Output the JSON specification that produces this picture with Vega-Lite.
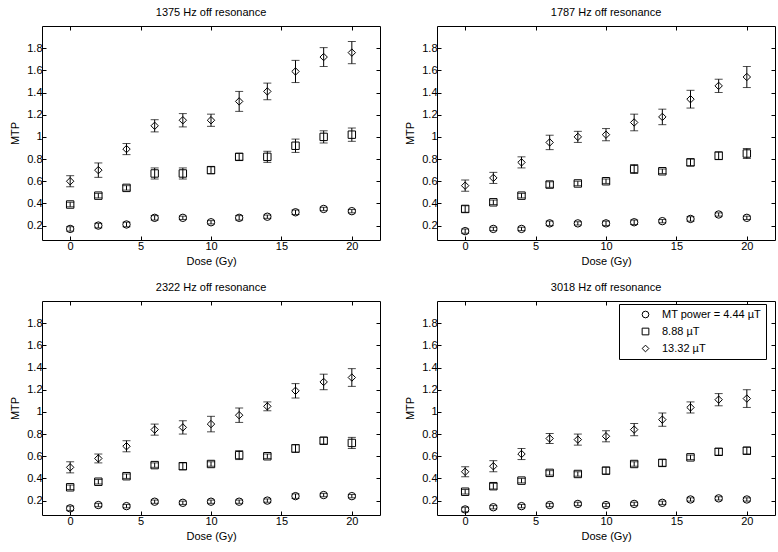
{
  "$schema": "https://vega.github.io/schema/vega-lite/v6.json",
  "padding": {"left": 9, "top": 6, "right": 2, "bottom": 2},
  "config": {"font": "Liberation Sans", "view": {"stroke": "black", "strokeWidth": 1},
    "axis": {"grid": false, "domain": false, "tickColor": "black", "tickSize": -4, "labelColor": "black", "labelFontSize": 11, "titleColor": "black", "titleFontSize": 11, "titleFontWeight": "normal", "labelPadding": 4}},
  "data": {"values": [
    {"panel": "1375 Hz off resonance", "power": "MT power = 4.44 µT", "dose": 0, "mtp": 0.17, "lo": 0.15, "hi": 0.19},
    {"panel": "1375 Hz off resonance", "power": "MT power = 4.44 µT", "dose": 2, "mtp": 0.20, "lo": 0.18, "hi": 0.22},
    {"panel": "1375 Hz off resonance", "power": "MT power = 4.44 µT", "dose": 4, "mtp": 0.21, "lo": 0.19, "hi": 0.23},
    {"panel": "1375 Hz off resonance", "power": "MT power = 4.44 µT", "dose": 6, "mtp": 0.27, "lo": 0.25, "hi": 0.29},
    {"panel": "1375 Hz off resonance", "power": "MT power = 4.44 µT", "dose": 8, "mtp": 0.27, "lo": 0.255, "hi": 0.285},
    {"panel": "1375 Hz off resonance", "power": "MT power = 4.44 µT", "dose": 10, "mtp": 0.23, "lo": 0.215, "hi": 0.245},
    {"panel": "1375 Hz off resonance", "power": "MT power = 4.44 µT", "dose": 12, "mtp": 0.27, "lo": 0.25, "hi": 0.29},
    {"panel": "1375 Hz off resonance", "power": "MT power = 4.44 µT", "dose": 14, "mtp": 0.28, "lo": 0.265, "hi": 0.295},
    {"panel": "1375 Hz off resonance", "power": "MT power = 4.44 µT", "dose": 16, "mtp": 0.32, "lo": 0.30, "hi": 0.34},
    {"panel": "1375 Hz off resonance", "power": "MT power = 4.44 µT", "dose": 18, "mtp": 0.35, "lo": 0.335, "hi": 0.365},
    {"panel": "1375 Hz off resonance", "power": "MT power = 4.44 µT", "dose": 20, "mtp": 0.33, "lo": 0.315, "hi": 0.345},
    {"panel": "1375 Hz off resonance", "power": "8.88 µT", "dose": 0, "mtp": 0.39, "lo": 0.37, "hi": 0.41},
    {"panel": "1375 Hz off resonance", "power": "8.88 µT", "dose": 2, "mtp": 0.47, "lo": 0.45, "hi": 0.49},
    {"panel": "1375 Hz off resonance", "power": "8.88 µT", "dose": 4, "mtp": 0.54, "lo": 0.52, "hi": 0.56},
    {"panel": "1375 Hz off resonance", "power": "8.88 µT", "dose": 6, "mtp": 0.67, "lo": 0.62, "hi": 0.72},
    {"panel": "1375 Hz off resonance", "power": "8.88 µT", "dose": 8, "mtp": 0.67, "lo": 0.62, "hi": 0.72},
    {"panel": "1375 Hz off resonance", "power": "8.88 µT", "dose": 10, "mtp": 0.70, "lo": 0.67, "hi": 0.73},
    {"panel": "1375 Hz off resonance", "power": "8.88 µT", "dose": 12, "mtp": 0.82, "lo": 0.79, "hi": 0.85},
    {"panel": "1375 Hz off resonance", "power": "8.88 µT", "dose": 14, "mtp": 0.82, "lo": 0.77, "hi": 0.87},
    {"panel": "1375 Hz off resonance", "power": "8.88 µT", "dose": 16, "mtp": 0.92, "lo": 0.86, "hi": 0.98},
    {"panel": "1375 Hz off resonance", "power": "8.88 µT", "dose": 18, "mtp": 1.00, "lo": 0.945, "hi": 1.055},
    {"panel": "1375 Hz off resonance", "power": "8.88 µT", "dose": 20, "mtp": 1.02, "lo": 0.96, "hi": 1.08},
    {"panel": "1375 Hz off resonance", "power": "13.32 µT", "dose": 0, "mtp": 0.60, "lo": 0.55, "hi": 0.65},
    {"panel": "1375 Hz off resonance", "power": "13.32 µT", "dose": 2, "mtp": 0.70, "lo": 0.635, "hi": 0.765},
    {"panel": "1375 Hz off resonance", "power": "13.32 µT", "dose": 4, "mtp": 0.89, "lo": 0.84, "hi": 0.94},
    {"panel": "1375 Hz off resonance", "power": "13.32 µT", "dose": 6, "mtp": 1.10, "lo": 1.045, "hi": 1.155},
    {"panel": "1375 Hz off resonance", "power": "13.32 µT", "dose": 8, "mtp": 1.15, "lo": 1.09, "hi": 1.21},
    {"panel": "1375 Hz off resonance", "power": "13.32 µT", "dose": 10, "mtp": 1.15, "lo": 1.095, "hi": 1.205},
    {"panel": "1375 Hz off resonance", "power": "13.32 µT", "dose": 12, "mtp": 1.32, "lo": 1.23, "hi": 1.41},
    {"panel": "1375 Hz off resonance", "power": "13.32 µT", "dose": 14, "mtp": 1.41, "lo": 1.335, "hi": 1.485},
    {"panel": "1375 Hz off resonance", "power": "13.32 µT", "dose": 16, "mtp": 1.59, "lo": 1.49, "hi": 1.69},
    {"panel": "1375 Hz off resonance", "power": "13.32 µT", "dose": 18, "mtp": 1.72, "lo": 1.635, "hi": 1.805},
    {"panel": "1375 Hz off resonance", "power": "13.32 µT", "dose": 20, "mtp": 1.76, "lo": 1.66, "hi": 1.86},

    {"panel": "1787 Hz off resonance", "power": "MT power = 4.44 µT", "dose": 0, "mtp": 0.15, "lo": 0.13, "hi": 0.17},
    {"panel": "1787 Hz off resonance", "power": "MT power = 4.44 µT", "dose": 2, "mtp": 0.17, "lo": 0.155, "hi": 0.185},
    {"panel": "1787 Hz off resonance", "power": "MT power = 4.44 µT", "dose": 4, "mtp": 0.17, "lo": 0.155, "hi": 0.185},
    {"panel": "1787 Hz off resonance", "power": "MT power = 4.44 µT", "dose": 6, "mtp": 0.22, "lo": 0.20, "hi": 0.24},
    {"panel": "1787 Hz off resonance", "power": "MT power = 4.44 µT", "dose": 8, "mtp": 0.22, "lo": 0.205, "hi": 0.235},
    {"panel": "1787 Hz off resonance", "power": "MT power = 4.44 µT", "dose": 10, "mtp": 0.22, "lo": 0.20, "hi": 0.24},
    {"panel": "1787 Hz off resonance", "power": "MT power = 4.44 µT", "dose": 12, "mtp": 0.23, "lo": 0.21, "hi": 0.25},
    {"panel": "1787 Hz off resonance", "power": "MT power = 4.44 µT", "dose": 14, "mtp": 0.24, "lo": 0.225, "hi": 0.255},
    {"panel": "1787 Hz off resonance", "power": "MT power = 4.44 µT", "dose": 16, "mtp": 0.26, "lo": 0.24, "hi": 0.28},
    {"panel": "1787 Hz off resonance", "power": "MT power = 4.44 µT", "dose": 18, "mtp": 0.30, "lo": 0.285, "hi": 0.315},
    {"panel": "1787 Hz off resonance", "power": "MT power = 4.44 µT", "dose": 20, "mtp": 0.27, "lo": 0.255, "hi": 0.285},
    {"panel": "1787 Hz off resonance", "power": "8.88 µT", "dose": 0, "mtp": 0.35, "lo": 0.32, "hi": 0.38},
    {"panel": "1787 Hz off resonance", "power": "8.88 µT", "dose": 2, "mtp": 0.41, "lo": 0.39, "hi": 0.43},
    {"panel": "1787 Hz off resonance", "power": "8.88 µT", "dose": 4, "mtp": 0.47, "lo": 0.45, "hi": 0.49},
    {"panel": "1787 Hz off resonance", "power": "8.88 µT", "dose": 6, "mtp": 0.57, "lo": 0.545, "hi": 0.595},
    {"panel": "1787 Hz off resonance", "power": "8.88 µT", "dose": 8, "mtp": 0.58, "lo": 0.56, "hi": 0.60},
    {"panel": "1787 Hz off resonance", "power": "8.88 µT", "dose": 10, "mtp": 0.60, "lo": 0.58, "hi": 0.62},
    {"panel": "1787 Hz off resonance", "power": "8.88 µT", "dose": 12, "mtp": 0.71, "lo": 0.67, "hi": 0.75},
    {"panel": "1787 Hz off resonance", "power": "8.88 µT", "dose": 14, "mtp": 0.69, "lo": 0.67, "hi": 0.71},
    {"panel": "1787 Hz off resonance", "power": "8.88 µT", "dose": 16, "mtp": 0.77, "lo": 0.74, "hi": 0.80},
    {"panel": "1787 Hz off resonance", "power": "8.88 µT", "dose": 18, "mtp": 0.83, "lo": 0.795, "hi": 0.865},
    {"panel": "1787 Hz off resonance", "power": "8.88 µT", "dose": 20, "mtp": 0.85, "lo": 0.805, "hi": 0.895},
    {"panel": "1787 Hz off resonance", "power": "13.32 µT", "dose": 0, "mtp": 0.56, "lo": 0.51, "hi": 0.61},
    {"panel": "1787 Hz off resonance", "power": "13.32 µT", "dose": 2, "mtp": 0.63, "lo": 0.58, "hi": 0.68},
    {"panel": "1787 Hz off resonance", "power": "13.32 µT", "dose": 4, "mtp": 0.77, "lo": 0.72, "hi": 0.82},
    {"panel": "1787 Hz off resonance", "power": "13.32 µT", "dose": 6, "mtp": 0.95, "lo": 0.885, "hi": 1.015},
    {"panel": "1787 Hz off resonance", "power": "13.32 µT", "dose": 8, "mtp": 1.00, "lo": 0.95, "hi": 1.05},
    {"panel": "1787 Hz off resonance", "power": "13.32 µT", "dose": 10, "mtp": 1.02, "lo": 0.965, "hi": 1.075},
    {"panel": "1787 Hz off resonance", "power": "13.32 µT", "dose": 12, "mtp": 1.13, "lo": 1.055, "hi": 1.205},
    {"panel": "1787 Hz off resonance", "power": "13.32 µT", "dose": 14, "mtp": 1.18, "lo": 1.11, "hi": 1.25},
    {"panel": "1787 Hz off resonance", "power": "13.32 µT", "dose": 16, "mtp": 1.34, "lo": 1.26, "hi": 1.42},
    {"panel": "1787 Hz off resonance", "power": "13.32 µT", "dose": 18, "mtp": 1.46, "lo": 1.40, "hi": 1.52},
    {"panel": "1787 Hz off resonance", "power": "13.32 µT", "dose": 20, "mtp": 1.54, "lo": 1.445, "hi": 1.635},

    {"panel": "2322 Hz off resonance", "power": "MT power = 4.44 µT", "dose": 0, "mtp": 0.13, "lo": 0.11, "hi": 0.15},
    {"panel": "2322 Hz off resonance", "power": "MT power = 4.44 µT", "dose": 2, "mtp": 0.16, "lo": 0.145, "hi": 0.175},
    {"panel": "2322 Hz off resonance", "power": "MT power = 4.44 µT", "dose": 4, "mtp": 0.15, "lo": 0.135, "hi": 0.165},
    {"panel": "2322 Hz off resonance", "power": "MT power = 4.44 µT", "dose": 6, "mtp": 0.19, "lo": 0.175, "hi": 0.205},
    {"panel": "2322 Hz off resonance", "power": "MT power = 4.44 µT", "dose": 8, "mtp": 0.18, "lo": 0.165, "hi": 0.195},
    {"panel": "2322 Hz off resonance", "power": "MT power = 4.44 µT", "dose": 10, "mtp": 0.19, "lo": 0.175, "hi": 0.205},
    {"panel": "2322 Hz off resonance", "power": "MT power = 4.44 µT", "dose": 12, "mtp": 0.19, "lo": 0.175, "hi": 0.205},
    {"panel": "2322 Hz off resonance", "power": "MT power = 4.44 µT", "dose": 14, "mtp": 0.20, "lo": 0.185, "hi": 0.215},
    {"panel": "2322 Hz off resonance", "power": "MT power = 4.44 µT", "dose": 16, "mtp": 0.24, "lo": 0.22, "hi": 0.26},
    {"panel": "2322 Hz off resonance", "power": "MT power = 4.44 µT", "dose": 18, "mtp": 0.25, "lo": 0.235, "hi": 0.265},
    {"panel": "2322 Hz off resonance", "power": "MT power = 4.44 µT", "dose": 20, "mtp": 0.24, "lo": 0.225, "hi": 0.255},
    {"panel": "2322 Hz off resonance", "power": "8.88 µT", "dose": 0, "mtp": 0.32, "lo": 0.30, "hi": 0.34},
    {"panel": "2322 Hz off resonance", "power": "8.88 µT", "dose": 2, "mtp": 0.37, "lo": 0.35, "hi": 0.39},
    {"panel": "2322 Hz off resonance", "power": "8.88 µT", "dose": 4, "mtp": 0.42, "lo": 0.40, "hi": 0.44},
    {"panel": "2322 Hz off resonance", "power": "8.88 µT", "dose": 6, "mtp": 0.52, "lo": 0.50, "hi": 0.54},
    {"panel": "2322 Hz off resonance", "power": "8.88 µT", "dose": 8, "mtp": 0.51, "lo": 0.48, "hi": 0.54},
    {"panel": "2322 Hz off resonance", "power": "8.88 µT", "dose": 10, "mtp": 0.53, "lo": 0.51, "hi": 0.55},
    {"panel": "2322 Hz off resonance", "power": "8.88 µT", "dose": 12, "mtp": 0.61, "lo": 0.57, "hi": 0.65},
    {"panel": "2322 Hz off resonance", "power": "8.88 µT", "dose": 14, "mtp": 0.60, "lo": 0.58, "hi": 0.62},
    {"panel": "2322 Hz off resonance", "power": "8.88 µT", "dose": 16, "mtp": 0.67, "lo": 0.635, "hi": 0.705},
    {"panel": "2322 Hz off resonance", "power": "8.88 µT", "dose": 18, "mtp": 0.74, "lo": 0.71, "hi": 0.77},
    {"panel": "2322 Hz off resonance", "power": "8.88 µT", "dose": 20, "mtp": 0.72, "lo": 0.67, "hi": 0.77},
    {"panel": "2322 Hz off resonance", "power": "13.32 µT", "dose": 0, "mtp": 0.50, "lo": 0.45, "hi": 0.55},
    {"panel": "2322 Hz off resonance", "power": "13.32 µT", "dose": 2, "mtp": 0.58, "lo": 0.54, "hi": 0.62},
    {"panel": "2322 Hz off resonance", "power": "13.32 µT", "dose": 4, "mtp": 0.69, "lo": 0.64, "hi": 0.74},
    {"panel": "2322 Hz off resonance", "power": "13.32 µT", "dose": 6, "mtp": 0.84, "lo": 0.79, "hi": 0.89},
    {"panel": "2322 Hz off resonance", "power": "13.32 µT", "dose": 8, "mtp": 0.86, "lo": 0.80, "hi": 0.92},
    {"panel": "2322 Hz off resonance", "power": "13.32 µT", "dose": 10, "mtp": 0.89, "lo": 0.82, "hi": 0.96},
    {"panel": "2322 Hz off resonance", "power": "13.32 µT", "dose": 12, "mtp": 0.97, "lo": 0.905, "hi": 1.035},
    {"panel": "2322 Hz off resonance", "power": "13.32 µT", "dose": 14, "mtp": 1.05, "lo": 1.01, "hi": 1.09},
    {"panel": "2322 Hz off resonance", "power": "13.32 µT", "dose": 16, "mtp": 1.19, "lo": 1.125, "hi": 1.255},
    {"panel": "2322 Hz off resonance", "power": "13.32 µT", "dose": 18, "mtp": 1.27, "lo": 1.20, "hi": 1.34},
    {"panel": "2322 Hz off resonance", "power": "13.32 µT", "dose": 20, "mtp": 1.31, "lo": 1.23, "hi": 1.39},

    {"panel": "3018 Hz off resonance", "power": "MT power = 4.44 µT", "dose": 0, "mtp": 0.12, "lo": 0.10, "hi": 0.14},
    {"panel": "3018 Hz off resonance", "power": "MT power = 4.44 µT", "dose": 2, "mtp": 0.14, "lo": 0.125, "hi": 0.155},
    {"panel": "3018 Hz off resonance", "power": "MT power = 4.44 µT", "dose": 4, "mtp": 0.15, "lo": 0.135, "hi": 0.165},
    {"panel": "3018 Hz off resonance", "power": "MT power = 4.44 µT", "dose": 6, "mtp": 0.16, "lo": 0.145, "hi": 0.175},
    {"panel": "3018 Hz off resonance", "power": "MT power = 4.44 µT", "dose": 8, "mtp": 0.17, "lo": 0.155, "hi": 0.185},
    {"panel": "3018 Hz off resonance", "power": "MT power = 4.44 µT", "dose": 10, "mtp": 0.16, "lo": 0.145, "hi": 0.175},
    {"panel": "3018 Hz off resonance", "power": "MT power = 4.44 µT", "dose": 12, "mtp": 0.17, "lo": 0.155, "hi": 0.185},
    {"panel": "3018 Hz off resonance", "power": "MT power = 4.44 µT", "dose": 14, "mtp": 0.18, "lo": 0.165, "hi": 0.195},
    {"panel": "3018 Hz off resonance", "power": "MT power = 4.44 µT", "dose": 16, "mtp": 0.21, "lo": 0.195, "hi": 0.225},
    {"panel": "3018 Hz off resonance", "power": "MT power = 4.44 µT", "dose": 18, "mtp": 0.22, "lo": 0.205, "hi": 0.235},
    {"panel": "3018 Hz off resonance", "power": "MT power = 4.44 µT", "dose": 20, "mtp": 0.21, "lo": 0.195, "hi": 0.225},
    {"panel": "3018 Hz off resonance", "power": "8.88 µT", "dose": 0, "mtp": 0.28, "lo": 0.26, "hi": 0.30},
    {"panel": "3018 Hz off resonance", "power": "8.88 µT", "dose": 2, "mtp": 0.33, "lo": 0.305, "hi": 0.355},
    {"panel": "3018 Hz off resonance", "power": "8.88 µT", "dose": 4, "mtp": 0.38, "lo": 0.36, "hi": 0.40},
    {"panel": "3018 Hz off resonance", "power": "8.88 µT", "dose": 6, "mtp": 0.45, "lo": 0.43, "hi": 0.47},
    {"panel": "3018 Hz off resonance", "power": "8.88 µT", "dose": 8, "mtp": 0.44, "lo": 0.42, "hi": 0.46},
    {"panel": "3018 Hz off resonance", "power": "8.88 µT", "dose": 10, "mtp": 0.47, "lo": 0.44, "hi": 0.50},
    {"panel": "3018 Hz off resonance", "power": "8.88 µT", "dose": 12, "mtp": 0.53, "lo": 0.51, "hi": 0.55},
    {"panel": "3018 Hz off resonance", "power": "8.88 µT", "dose": 14, "mtp": 0.54, "lo": 0.51, "hi": 0.57},
    {"panel": "3018 Hz off resonance", "power": "8.88 µT", "dose": 16, "mtp": 0.59, "lo": 0.57, "hi": 0.61},
    {"panel": "3018 Hz off resonance", "power": "8.88 µT", "dose": 18, "mtp": 0.64, "lo": 0.61, "hi": 0.67},
    {"panel": "3018 Hz off resonance", "power": "8.88 µT", "dose": 20, "mtp": 0.65, "lo": 0.62, "hi": 0.68},
    {"panel": "3018 Hz off resonance", "power": "13.32 µT", "dose": 0, "mtp": 0.46, "lo": 0.415, "hi": 0.505},
    {"panel": "3018 Hz off resonance", "power": "13.32 µT", "dose": 2, "mtp": 0.51, "lo": 0.46, "hi": 0.56},
    {"panel": "3018 Hz off resonance", "power": "13.32 µT", "dose": 4, "mtp": 0.62, "lo": 0.57, "hi": 0.67},
    {"panel": "3018 Hz off resonance", "power": "13.32 µT", "dose": 6, "mtp": 0.76, "lo": 0.715, "hi": 0.805},
    {"panel": "3018 Hz off resonance", "power": "13.32 µT", "dose": 8, "mtp": 0.75, "lo": 0.70, "hi": 0.80},
    {"panel": "3018 Hz off resonance", "power": "13.32 µT", "dose": 10, "mtp": 0.78, "lo": 0.73, "hi": 0.83},
    {"panel": "3018 Hz off resonance", "power": "13.32 µT", "dose": 12, "mtp": 0.84, "lo": 0.785, "hi": 0.895},
    {"panel": "3018 Hz off resonance", "power": "13.32 µT", "dose": 14, "mtp": 0.93, "lo": 0.87, "hi": 0.99},
    {"panel": "3018 Hz off resonance", "power": "13.32 µT", "dose": 16, "mtp": 1.04, "lo": 0.99, "hi": 1.09},
    {"panel": "3018 Hz off resonance", "power": "13.32 µT", "dose": 18, "mtp": 1.11, "lo": 1.055, "hi": 1.165},
    {"panel": "3018 Hz off resonance", "power": "13.32 µT", "dose": 20, "mtp": 1.12, "lo": 1.04, "hi": 1.20}
  ]},
  "facet": {"field": "panel", "type": "nominal", "header": {"title": null, "labelFontSize": 11, "labelColor": "black", "labelPadding": 8}},
  "columns": 2,
  "spacing": {"column": 23, "row": 14},
  "resolve": {"axis": {"x": "independent", "y": "independent"}},
  "spec": {
    "width": 338,
    "height": 214,
    "resolve": {"axis": {"x": "independent", "y": "independent"}},
    "layer": [
      {"mark": {"type": "rule", "color": "black", "strokeWidth": 1},
       "encoding": {
         "x": {"field": "dose", "type": "quantitative", "scale": {"domain": [-2, 22]}, "axis": null},
         "y": {"field": "lo", "type": "quantitative", "scale": {"domain": [0.07, 2]}, "axis": null},
         "y2": {"field": "hi"}}},
      {"mark": {"type": "tick", "orient": "horizontal", "color": "black", "size": 8, "thickness": 1},
       "encoding": {
         "x": {"field": "dose", "type": "quantitative", "scale": {"domain": [-2, 22]}, "axis": null},
         "y": {"field": "lo", "type": "quantitative", "scale": {"domain": [0.07, 2]}, "axis": null}}},
      {"mark": {"type": "tick", "orient": "horizontal", "color": "black", "size": 8, "thickness": 1},
       "encoding": {
         "x": {"field": "dose", "type": "quantitative", "scale": {"domain": [-2, 22]}, "axis": null},
         "y": {"field": "hi", "type": "quantitative", "scale": {"domain": [0.07, 2]}, "axis": null}}},
      {"mark": {"type": "point", "filled": false, "color": "black", "size": 55, "strokeWidth": 1, "opacity": 1},
       "encoding": {
         "x": {"field": "dose", "type": "quantitative", "scale": {"domain": [-2, 22]}, "title": "Dose (Gy)",
               "axis": {"values": [0, 5, 10, 15, 20], "titlePadding": 4}},
         "y": {"field": "mtp", "type": "quantitative", "scale": {"domain": [0.07, 2]}, "title": "MTP",
               "axis": {"values": [0.2, 0.4, 0.6, 0.8, 1, 1.2, 1.4, 1.6, 1.8], "format": ".1~f", "titlePadding": 6}},
         "shape": {"field": "power", "type": "nominal",
                   "scale": {"domain": ["MT power = 4.44 µT", "8.88 µT", "13.32 µT"], "range": ["circle", "square", "diamond"]},
                   "legend": {"title": null, "orient": "none", "legendX": 577, "legendY": 278, "strokeColor": "black", "fillColor": "white",
                              "padding": 5, "symbolOffset": 16, "labelOffset": 11, "labelFontSize": 11, "labelColor": "black",
                              "rowPadding": 5, "symbolStrokeColor": "black", "symbolFillColor": "white", "symbolSize": 45, "symbolStrokeWidth": 1}}}},
      {"mark": {"type": "point", "opacity": 0},
       "encoding": {
         "x": {"field": "dose", "type": "quantitative", "scale": {"domain": [-2, 22]},
               "axis": {"orient": "top", "values": [0, 5, 10, 15, 20], "labels": false, "title": null}},
         "y": {"field": "mtp", "type": "quantitative", "scale": {"domain": [0.07, 2]},
               "axis": {"orient": "right", "values": [0.2, 0.4, 0.6, 0.8, 1, 1.2, 1.4, 1.6, 1.8], "labels": false, "title": null}}}}
    ]
  }
}
